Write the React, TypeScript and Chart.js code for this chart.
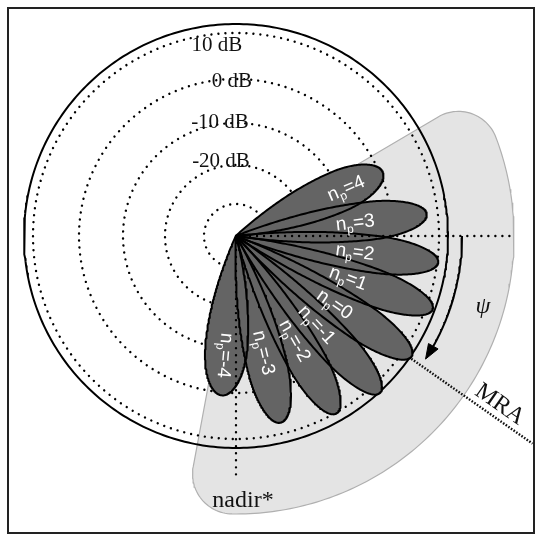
import React, { useEffect, useRef } from "react";
import { Chart, registerables } from "chart.js";

Chart.register(...registerables);

// ---------- data ----------
const lobeOrders = ["4", "3", "2", "1", "0", "-1", "-2", "-3", "-4"];
const lobeAngles = [23.5, 6.5, -7.5, -20.5, -34.5, -47.5, -60.5, -76.5, -95];
const lobeLengths = [160, 192, 204, 210, 213, 213, 204, 192, 160];
const lobeWidths = [41, 38, 37, 37, 37, 37, 38, 40, 42];
const lobeLabelRadius = 120;

const ringRadii = [203, 157, 113, 71, 32];
const ringLabels = ["10 dB", "0 dB", "-10 dB", "-20 dB"];
const ringLabelX = [-19, -4, -16, -15];
const ringLabelY = [185, 149, 108, 69];

const outerRadius = 212;
const mraAngle = -35;
const mraRange = [214, 362];
const guideAngles = [0, -90];
const guideLengths = [276, 242];

const sectorEdges = [30.5, -100.5];
const sectorRadius = 278;
const sectorCorner = 40;

const psiRadius = 226;
const psiEnd = -33;
const arrowLength = 15;
const arrowHalfWidth = 5.5;

// ---------- helpers ----------
const rad = (d: number) => (d * Math.PI) / 180;
const polar = (r: number, d: number) => ({ x: r * Math.cos(rad(d)), y: r * Math.sin(rad(d)) });

function circlePoints(r: number, a0 = 0, a1 = 360, n = 360) {
  const pts = [];
  for (let i = 0; i <= n; i++) pts.push(polar(r, a0 + ((a1 - a0) * i) / n));
  return pts;
}

function lobePoints(angle: number, L: number, W: number) {
  const c = 0.7;
  const h = W / 2;
  const local: { u: number; v: number }[] = [];
  const N1 = 60;
  for (let i = 0; i <= N1; i++) {
    const s = (c * i) / N1;
    local.push({ u: s * L, v: h * Math.pow(Math.sin((Math.PI / 2) * (s / c)), 0.9) });
  }
  const N2 = 60;
  for (let i = 1; i <= N2; i++) {
    const phi = (Math.PI / 2) * (i / N2);
    local.push({ u: (c + (1 - c) * Math.sin(phi)) * L, v: h * Math.cos(phi) });
  }
  const top = local.slice();
  const bottom = local
    .slice(0, local.length - 1)
    .reverse()
    .map((p) => ({ u: p.u, v: -p.v }));
  const all = top.concat(bottom);
  const ca = Math.cos(rad(angle));
  const sa = Math.sin(rad(angle));
  return all.map((p) => ({ x: p.u * ca - p.v * sa, y: p.u * sa + p.v * ca }));
}

function sectorPoints(R: number, a1: number, a2: number, rc: number) {
  const pts: { x: number; y: number }[] = [];
  const delta = (Math.asin(rc / (R - rc)) * 180) / Math.PI;
  pts.push({ x: 0, y: 0 });
  const ct = polar(R - rc, a1 - delta);
  const n = 30;
  for (let i = 0; i <= n; i++) {
    const a = a1 + 90 + ((a1 - delta - (a1 + 90)) * i) / n;
    const d = polar(rc, a);
    pts.push({ x: ct.x + d.x, y: ct.y + d.y });
  }
  const arc = circlePoints(R, a1 - delta, a2 + delta, 120);
  pts.push(...arc);
  const cb = polar(R - rc, a2 + delta);
  for (let i = 0; i <= n; i++) {
    const a = a2 + delta + ((a2 - 90 - (a2 + delta)) * i) / n;
    const d = polar(rc, a);
    pts.push({ x: cb.x + d.x, y: cb.y + d.y });
  }
  pts.push({ x: 0, y: 0 });
  return pts;
}

function radialLine(angle: number, r0: number, r1: number) {
  return [polar(r0, angle), polar(r1, angle)];
}

function arrowHead(r: number, tipAngle: number) {
  const tip = polar(r, tipAngle);
  const baseAngle = tipAngle + ((arrowLength / r) * 180) / Math.PI;
  const b1 = polar(r + arrowHalfWidth, baseAngle);
  const b2 = polar(r - arrowHalfWidth, baseAngle);
  return [b1, tip, b2, b1];
}

const textPlugin = {
  id: "diagramTexts",
  afterDatasetsDraw(chart: any) {
    const { ctx } = chart;
    const xs = chart.scales.x;
    const ys = chart.scales.y;
    const px = (v: number) => xs.getPixelForValue(v);
    const py = (v: number) => ys.getPixelForValue(v);

    ctx.save();
    // frame
    ctx.strokeStyle = "#222";
    ctx.lineWidth = 2;
    ctx.strokeRect(8, 8, 526, 525);

    // ring labels
    ctx.fillStyle = "#111";
    ctx.font = '21px "Liberation Serif", "Times New Roman", serif';
    ctx.textAlign = "center";
    ctx.textBaseline = "alphabetic";
    ringLabels.forEach((t, i) => ctx.fillText(t, px(ringLabelX[i]), py(ringLabelY[i])));

    // lobe labels
    const big = '19px "Liberation Sans", Arial, sans-serif';
    const small = '12px "Liberation Sans", Arial, sans-serif';
    lobeOrders.forEach((n, i) => {
      const p = polar(lobeLabelRadius, lobeAngles[i]);
      ctx.save();
      ctx.translate(px(p.x), py(p.y));
      ctx.rotate(-rad(lobeAngles[i]));
      ctx.fillStyle = "#fff";
      ctx.textAlign = "left";
      ctx.textBaseline = "alphabetic";
      const rest = "=" + n;
      ctx.font = big;
      const wn = ctx.measureText("n").width;
      const wr = ctx.measureText(rest).width;
      ctx.font = small;
      const wp = ctx.measureText("p").width;
      let x0 = -(wn + wp + wr) / 2;
      const base = 6;
      ctx.font = big;
      ctx.fillText("n", x0, base);
      x0 += wn;
      ctx.font = small;
      ctx.fillText("p", x0, base + 4);
      x0 += wp;
      ctx.font = big;
      ctx.fillText(rest, x0, base);
      ctx.restore();
    });

    // psi
    ctx.fillStyle = "#111";
    ctx.font = 'italic 24px "Liberation Serif", "Times New Roman", serif';
    ctx.textAlign = "center";
    ctx.textBaseline = "middle";
    ctx.fillText("\u03C8", px(247), py(-71));

    // nadir*
    ctx.font = '24px "Liberation Serif", "Times New Roman", serif';
    ctx.textBaseline = "alphabetic";
    ctx.fillText("nadir*", px(7), py(-271));

    // MRA
    const m = polar(313, -32.6);
    ctx.save();
    ctx.translate(px(m.x), py(m.y));
    ctx.rotate(rad(-mraAngle));
    ctx.font = '24px "Liberation Serif", "Times New Roman", serif';
    ctx.textBaseline = "middle";
    ctx.textAlign = "center";
    ctx.fillText("MRA", 0, 0);
    ctx.restore();

    ctx.restore();
  },
};

export default function App() {
  const ref = useRef<HTMLCanvasElement | null>(null);

  useEffect(() => {
    document.body.style.margin = "0";
    if (!ref.current) return;

    const layers: any[] = [];
    const line = (data: any[], extra: any) =>
      layers.push({
        data,
        showLine: true,
        pointRadius: 0,
        pointHoverRadius: 0,
        tension: 0,
        fill: false,
        borderColor: "#000",
        borderWidth: 2,
        ...extra,
      });

    // gray sector (bottom)
    line(sectorPoints(sectorRadius, sectorEdges[0], sectorEdges[1], sectorCorner), {
      fill: "shape",
      backgroundColor: "#e4e4e4",
      borderColor: "#b0b0b0",
      borderWidth: 1.2,
    });
    // dotted rings
    ringRadii.forEach((r) =>
      line(circlePoints(r), {
        borderColor: "#000",
        borderWidth: 2.4,
        borderDash: [0.01, 7],
        borderCapStyle: "round",
      })
    );
    // outer circle
    line(circlePoints(outerRadius), { borderColor: "#000", borderWidth: 2 });
    // lobe fills
    lobeAngles.forEach((a, i) =>
      line(lobePoints(a, lobeLengths[i], lobeWidths[i]), {
        fill: "shape",
        backgroundColor: "#646464",
        borderColor: "rgba(0,0,0,0)",
        borderWidth: 1,
      })
    );
    // lobe outlines
    lobeAngles.forEach((a, i) =>
      line(lobePoints(a, lobeLengths[i], lobeWidths[i]), {
        borderColor: "#000",
        borderWidth: 2,
        borderJoinStyle: "round",
      })
    );
    // guide dotted lines
    guideAngles.forEach((a, i) =>
      line(radialLine(a, 0, guideLengths[i]), {
        borderColor: "#000",
        borderWidth: 2.4,
        borderDash: [0.01, 7],
        borderCapStyle: "round",
      })
    );
    // MRA line
    line(radialLine(mraAngle, mraRange[0], mraRange[1]), {
      borderColor: "#111",
      borderWidth: 2.4,
      borderDash: [1.6, 1.6],
    });
    // psi arc
    const arcEnd = psiEnd + ((arrowLength / psiRadius) * 180) / Math.PI;
    line(circlePoints(psiRadius, 0, arcEnd, 60), { borderColor: "#000", borderWidth: 2 });
    line(arrowHead(psiRadius, psiEnd), {
      fill: "shape",
      backgroundColor: "#000",
      borderColor: "#000",
      borderWidth: 1,
    });

    const total = layers.length;
    layers.forEach((d, i) => (d.order = total - i));

    const chart = new Chart(ref.current, {
      type: "scatter",
      data: { datasets: layers },
      options: {
        animation: false,
        responsive: true,
        maintainAspectRatio: false,
        events: [],
        layout: { padding: 0 },
        plugins: { legend: { display: false }, tooltip: { enabled: false } },
        scales: {
          x: { type: "linear", min: -236, max: 314, display: false },
          y: { type: "linear", min: -304, max: 236, display: false },
        },
      },
      plugins: [textPlugin],
    });
    return () => chart.destroy();
  }, []);

  return (
    <div style={{ position: "relative", width: 550, height: 540, background: "#fff" }}>
      <canvas ref={ref} />
    </div>
  );
}
